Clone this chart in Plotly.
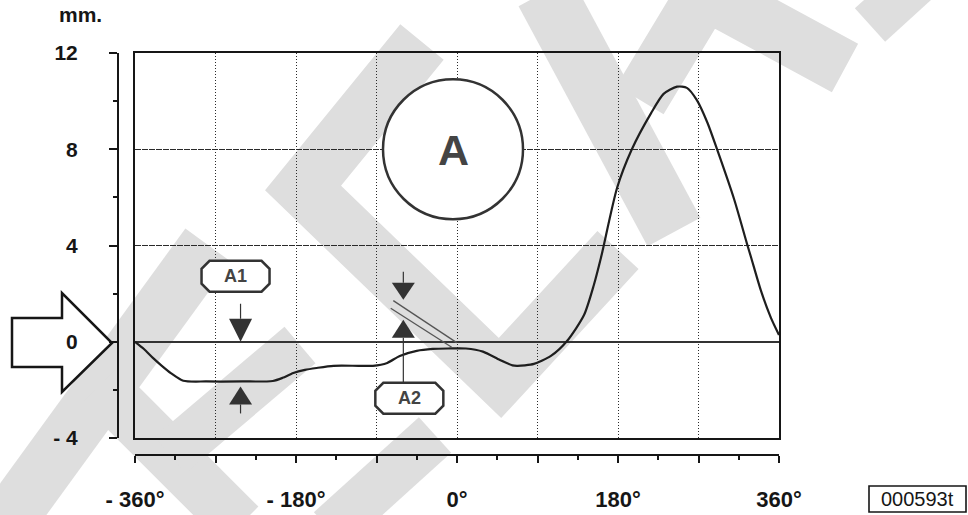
import numpy as np
import plotly.graph_objects as go

W, H = 968, 515

# Valve lift (mm) against crank angle (degrees)
crank_deg = [-360, -350, -340, -330, -320, -306, -280, -240, -206, -195, -183, -170,
             -157, -138, -110, -94, -78, -64, -45, -27, -10, 10, 29, 48, 62, 67, 76,
             86, 105, 123, 142, 153, 161, 179, 195, 217, 231, 246, 257, 268, 280, 291,
             310, 324, 329, 340, 351, 360]
lift_mm = [0.0, -0.3, -0.67, -1.0, -1.3, -1.62, -1.65, -1.65, -1.63, -1.5, -1.3, -1.17,
           -1.09, -1.0, -1.0, -1.0, -0.88, -0.59, -0.38, -0.3, -0.28, -0.28, -0.41, -0.76,
           -0.98, -1.0, -0.98, -0.92, -0.59, 0.03, 1.11, 2.36, 3.5, 6.4, 7.96, 9.5, 10.3,
           10.6, 10.55, 10.05, 9.1, 7.97, 5.9, 4.1, 3.48, 2.1, 0.99, 0.28]

y_tick_vals = [12, 8, 4, 0, -4]
y_tick_text = ["12", "8", "4", "0", "- 4"]
y_minor_vals = [10, 6, 2, -2]
x_tick_vals = [-360, -270, -180, -90, 0, 90, 180, 270, 360]
x_tick_text = ["- 360°", "", "- 180°", "", "0°", "", "180°", "", "360°"]
x_minor_vals = [-315, -225, -135, -45, 45, 135, 225, 315]
grid_deg = [-270, -180, -90, 0, 90, 180, 270]
grid_mm = [4, 8]

A1_DEG = -242   # clearance check on the base circle
A2_DEG = -60    # clearance check near TDC
A_CIRCLE = (0, 8)

INK = "#161616"
MARK = "#333333"
WASH = "#dedede"
FONT = "Liberation Sans, Arial, sans-serif"


def fx(px):
    return px / W


def fy(py):
    return 1 - py / H


def paper_path(points, close=False):
    s = "M" + " L".join(f"{fx(x):.5f},{fy(y):.5f}" for x, y in points)
    return s + (" Z" if close else "")


def rel_path(points, close=True):
    s = "M" + " L".join(f"{x},{y}" for x, y in points)
    return s + (" Z" if close else "")


fig = go.Figure()
fig.add_trace(go.Scatter(
    x=crank_deg, y=lift_mm, mode="lines",
    line=dict(color="#1e1e1e", width=2.2, shape="spline", smoothing=0.7),
    hoverinfo="skip", showlegend=False,
))
# carriers for the detached scale axes (left mm scale, bottom degree scale)
fig.add_trace(go.Scatter(x=[None], y=[None], xaxis="x2", yaxis="y",
                         hoverinfo="skip", showlegend=False))
fig.add_trace(go.Scatter(x=[None], y=[None], xaxis="x", yaxis="y2",
                         hoverinfo="skip", showlegend=False))

shapes = []

# background wash strokes
wash_strokes = [
    ([(422, 42), (303, 188), (500, 378), (618, 250)], 56),
    ([(545, -8), (674, 232)], 60),
    ([(640, 100), (705, -8), (845, 68)], 55),
    ([(870, 25), (925, -25)], 45),
    ([(-10, 545), (208, 245)], 56),
    ([(100, 385), (240, 525)], 52),
    ([(170, 455), (300, 345)], 48),
    ([(330, 530), (435, 435)], 48),
]
for pts, w in wash_strokes:
    shapes.append(dict(type="path", xref="paper", yref="paper", layer="below",
                       path=paper_path(pts), line=dict(color=WASH, width=w)))

# zero-reference arrow at the left
zero_arrow = [(12, 318), (62, 318), (62, 293), (112, 343), (62, 392), (62, 367), (12, 367)]
shapes.append(dict(type="path", xref="paper", yref="paper", layer="below",
                   path=paper_path(zero_arrow, close=True),
                   fillcolor="white", line=dict(color=INK, width=2.5)))


def anchored(xa, ya, path, **style):
    d = dict(type="path", xref="x", yref="y", xsizemode="pixel", ysizemode="pixel",
             xanchor=xa, yanchor=ya, path=path, layer="above")
    d.update(style)
    return d


def octagon(x0, x1, y0, y1, c=8):
    return rel_path([(x0 + c, y1), (x1 - c, y1), (x1, y1 - c), (x1, y0 + c),
                     (x1 - c, y0), (x0 + c, y0), (x0, y0 + c), (x0, y1 - c)])


# A1: gap between zero line and the base circle
a1_val = float(np.interp(A1_DEG, crank_deg, lift_mm))
shapes.append(anchored(A1_DEG, 0, rel_path([(-11.5, 23), (11.5, 23), (0, 0)]),
                       fillcolor=MARK, line=dict(width=0)))
shapes.append(anchored(A1_DEG, 0, rel_path([(0, 23), (0, 38)], close=False),
                       line=dict(color=MARK, width=1.2)))
shapes.append(anchored(A1_DEG, a1_val, rel_path([(-11.5, -23), (11.5, -23), (0, -5)]),
                       fillcolor=MARK, line=dict(width=0)))
shapes.append(anchored(A1_DEG, a1_val, rel_path([(0, -23), (0, -32)], close=False),
                       line=dict(color=MARK, width=1.2)))
shapes.append(anchored(A1_DEG, 0, octagon(-39, 29, 50, 81),
                       fillcolor="white", line=dict(color=MARK, width=2.5)))

# A2: gap near TDC
shapes.append(anchored(A2_DEG, 0, rel_path([(-11.5, 59), (11.5, 59), (0, 42)]),
                       fillcolor=MARK, line=dict(width=0)))
shapes.append(anchored(A2_DEG, 0, rel_path([(0, 59), (0, 70)], close=False),
                       line=dict(color=MARK, width=1.2)))
shapes.append(anchored(A2_DEG, 0, rel_path([(-11.5, 4), (11.5, 4), (0, 22)]),
                       fillcolor=MARK, line=dict(width=0)))
shapes.append(anchored(A2_DEG, 0, rel_path([(0, 4), (0, -41)], close=False),
                       line=dict(color=MARK, width=1.2)))
shapes.append(anchored(0, 0, rel_path([(-63.7, 41.1), (-0.3, -0.9)], close=False),
                       line=dict(color="#555555", width=1.3)))
shapes.append(anchored(0, 0, rel_path([(-66.3, 33.5), (-5.3, -5.5)], close=False),
                       line=dict(color="#555555", width=1.3)))
shapes.append(anchored(A2_DEG, 0, octagon(-28, 40, -72, -41),
                       fillcolor="white", line=dict(color=MARK, width=2.5)))

# detail circle "A"
shapes.append(dict(type="circle", xref="x", yref="y", xsizemode="pixel", ysizemode="pixel",
                   xanchor=A_CIRCLE[0], yanchor=A_CIRCLE[1], x0=-74, x1=66, y0=-70, y1=70,
                   fillcolor="white", line=dict(color=MARK, width=2.5), layer="above"))

# reference box
shapes.append(dict(type="rect", xref="paper", yref="paper",
                   x0=fx(869), x1=fx(966), y0=fy(512), y1=fy(486),
                   line=dict(color=INK, width=1.6), fillcolor="white", layer="above"))

centered = dict(showarrow=False, xanchor="center", yanchor="middle")
annotations = [
    dict(text="mm.", x=fx(80), y=fy(14), xref="paper", yref="paper",
         font=dict(size=21, family=FONT, color=INK, weight="bold"), **centered),
    dict(text="A1", x=A1_DEG, y=0, xref="x", yref="y", xshift=-5, yshift=65.5,
         font=dict(size=18, family=FONT, color="#444444", weight="bold"), **centered),
    dict(text="A2", x=A2_DEG, y=0, xref="x", yref="y", xshift=6, yshift=-56.5,
         font=dict(size=18, family=FONT, color="#444444", weight="bold"), **centered),
    dict(text="A", x=A_CIRCLE[0], y=A_CIRCLE[1], xref="x", yref="y", xshift=-4, yshift=-1,
         font=dict(size=43, family=FONT, color="#444444", weight="bold"), **centered),
    dict(text="000593t", x=fx(917.5), y=fy(499), xref="paper", yref="paper",
         font=dict(size=20, family=FONT, color=INK), **centered),
]

fig.update_layout(
    width=W, height=H, autosize=False,
    margin=dict(l=0, r=0, t=0, b=0, pad=0, autoexpand=False),
    paper_bgcolor="white", plot_bgcolor="rgba(0,0,0,0)",
    showlegend=False,
    font=dict(family=FONT, color=INK),
    xaxis=dict(domain=[fx(135), fx(779)], range=[-360, 360], tickvals=grid_deg,
               showticklabels=False, ticks="", showgrid=True, gridcolor="#2a2a2a",
               gridwidth=1.2, griddash="1px,2px", zeroline=False, showline=True, mirror=True,
               linecolor=INK, linewidth=2.2, fixedrange=True),
    yaxis=dict(domain=[fy(438), fy(53)], range=[-4, 12], tickvals=grid_mm,
               showticklabels=False, ticks="", showgrid=True, gridcolor="#2a2a2a",
               gridwidth=1.2, griddash="6px,1px", zeroline=True, zerolinecolor="#333333",
               zerolinewidth=1.6, showline=True, mirror=True, linecolor=INK,
               linewidth=2.2, fixedrange=True),
    xaxis2=dict(overlaying="x", anchor="free", position=fy(455), side="bottom",
                range=[-360, 360], tickmode="array", tickvals=x_tick_vals,
                ticktext=x_tick_text, ticks="outside", ticklen=7, tickwidth=2,
                tickcolor=INK, showline=True, linecolor=INK, linewidth=2,
                showgrid=False, zeroline=False, ticklabelstandoff=18,
                minor=dict(tickmode="array", tickvals=x_minor_vals, ticks="outside",
                           ticklen=4, tickwidth=2, tickcolor=INK, showgrid=False),
                tickfont=dict(size=22, family=FONT, color=INK, weight="bold"),
                fixedrange=True),
    yaxis2=dict(overlaying="y", anchor="free", position=fx(118), side="left",
                range=[-4, 12], tickmode="array", tickvals=y_tick_vals,
                ticktext=y_tick_text, ticks="outside", ticklen=8, tickwidth=2,
                tickcolor=INK, showline=True, linecolor=INK, linewidth=2,
                showgrid=False, zeroline=False, ticklabelstandoff=27,
                minor=dict(tickmode="array", tickvals=y_minor_vals, ticks="outside",
                           ticklen=4, tickwidth=2, tickcolor=INK, showgrid=False),
                tickfont=dict(size=21, family=FONT, color=INK, weight="bold"),
                fixedrange=True),
    shapes=shapes,
    annotations=annotations,
)

fig.write_html("out.html", include_plotlyjs=True, config={"displayModeBar": False})
